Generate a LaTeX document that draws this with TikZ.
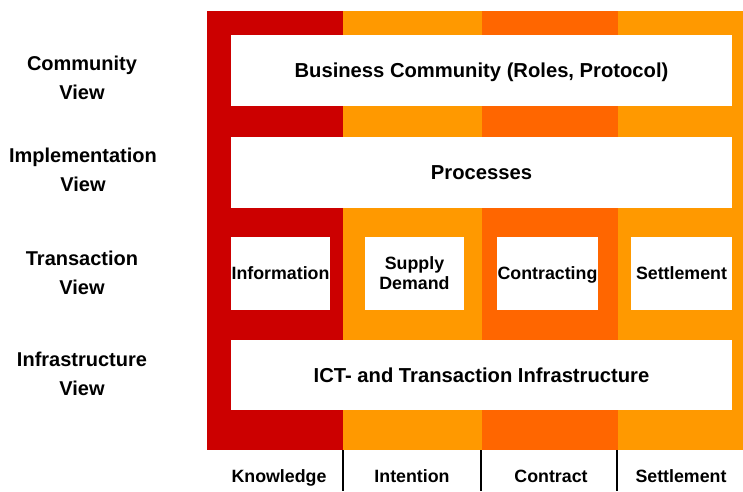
\documentclass[tikz,border=0pt]{standalone}
\usepackage{fontspec}
\setmainfont{Liberation Sans}
\definecolor{colred}{HTML}{CC0000}
\definecolor{colorange}{HTML}{FF9900}
\definecolor{coldark}{HTML}{FF6600}
\tikzset{
  whitebox/.style={fill=white,draw=none,inner sep=0pt,align=center,font=\fontsize{17.8}{20}\selectfont\bfseries},
  bigbox/.style={whitebox,text depth=0pt,font=\fontsize{20.2}{22}\selectfont\bfseries},
  viewlabel/.style={align=center,inner sep=0pt,font=\fontsize{20}{29}\selectfont\bfseries},
  collabel/.style={inner sep=0pt,text depth=0pt,font=\fontsize{17.8}{20}\selectfont\bfseries},
  divider/.style={draw=black,line width=1.3pt}
}
\begin{document}
\begin{tikzpicture}[x=1pt,y=-1pt]
\useasboundingbox (0,0) rectangle (743,491);
% columns
\fill[colred] (207,11) rectangle (343,450);
\fill[colorange] (343,11) rectangle (482,450);
\fill[coldark] (482,11) rectangle (618,450);
\fill[colorange] (618,11) rectangle (743,450);
% boxes
\node[bigbox,minimum width=501pt,minimum height=71pt] (bc) at (481.5,70.5) {Business Community (Roles, Protocol)};
\node[bigbox,minimum width=501pt,minimum height=71pt] (pr) at (481.5,172.5) {Processes};
\node[whitebox,text depth=0pt,minimum width=99pt,minimum height=73pt] (inf) at (280.5,273.5) {Information};
\node[whitebox,minimum width=99pt,minimum height=73pt] (sd) at (414.5,273.5) {Supply\\Demand};
\node[whitebox,text depth=0pt,minimum width=101pt,minimum height=73pt] (con) at (547.5,273.5) {Contracting};
\node[whitebox,text depth=0pt,minimum width=101pt,minimum height=73pt] (set) at (681.5,273.5) {Settlement};
\node[bigbox,minimum width=501pt,minimum height=70pt] (ict) at (481.5,375) {ICT- and Transaction Infrastructure};
% view labels
\node[viewlabel] (v1) at (82,77.5) {Community\\View};
\node[viewlabel] (v2) at (83,169.5) {Implementation\\View};
\node[viewlabel] (v3) at (82,272.5) {Transaction\\View};
\node[viewlabel] (v4) at (82,374) {Infrastructure\\View};
% column labels
\node[collabel] (k) at (279,476) {Knowledge};
\node[collabel] (i) at (412,476) {Intention};
\node[collabel] (c) at (551,476) {Contract};
\node[collabel] (s) at (681,476) {Settlement};
% dividers
\coordinate (d1a) at (343,450); \coordinate (d1b) at (343,491);
\coordinate (d2a) at (481,450); \coordinate (d2b) at (481,491);
\coordinate (d3a) at (617,450); \coordinate (d3b) at (617,491);
\draw[divider] (d1a) -- (d1b);
\draw[divider] (d2a) -- (d2b);
\draw[divider] (d3a) -- (d3b);
\end{tikzpicture}
\end{document}
